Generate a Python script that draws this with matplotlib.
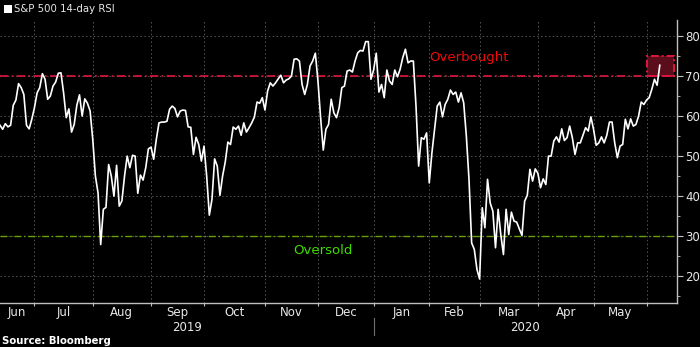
import numpy as np
import pandas as pd
import matplotlib
matplotlib.use("Agg")
import matplotlib.pyplot as plt
from matplotlib.patches import Rectangle
from matplotlib.ticker import MultipleLocator
from matplotlib.transforms import blended_transform_factory

_BG = "#000000"
_GRID = "#555555"
_SPINE = "#c0c0c0"
_TEXT = "#e8e8e8"
_OB_LINE = "#e0163c"
_OB_TEXT = "#f00a0a"
_OS_LINE = "#6aa000"
_OS_TEXT = "#3fdc00"

# S&P 500 14-day RSI, daily closes from 2019-06-12
RSI = [
    57.7, 56.7, 58.1, 57.3, 57.7, 62.7, 64.0, 68.1, 67.1, 65.4, 57.7, 56.8, 59.2,
    62.1, 65.8, 67.1, 70.6, 69.2, 64.2, 65.0, 67.5, 68.5, 70.7, 70.8, 65.8, 59.6,
    61.8, 56.0, 57.9, 62.7, 65.3, 60.0, 64.3, 63.2, 61.3, 54.2, 45.0, 40.8, 27.9,
    36.7, 37.2, 47.9, 45.0, 40.0, 47.7, 37.5, 38.8, 45.0, 50.0, 47.1, 50.2, 50.0,
    40.7,
    45.25, 44.0, 47.1, 51.8, 52.25, 49.2, 54.2, 58.3, 58.5, 58.5, 58.7, 61.7, 62.5,
    61.9, 59.8, 61.25, 61.5, 61.4, 57.3, 57.2, 50.4, 54.7, 52.9, 48.75, 52.5, 45.0,
    35.25, 39.2, 49.3, 47.5, 40.2, 45.0, 48.5, 53.5, 52.9, 57.25, 56.7, 57.5, 55.2,
    58.3, 56.0, 57.1, 58.3, 59.75, 63.5, 63.2, 64.6, 61.5, 66.25, 68.3, 67.5,
    68.3, 69.3, 70.2, 68.3, 69.0, 69.3, 70.0, 74.2, 74.3, 73.75, 67.9, 65.4, 67.9,
    72.5, 73.75, 75.7, 68.75, 59.6, 51.5, 56.7, 57.9, 64.2, 60.8, 59.6, 62.1, 67.1,
    67.5, 71.25, 71.5, 71.0, 73.75, 75.8, 76.4, 76.25, 78.6, 78.6, 69.2, 71.5, 75.7,
    66.0, 67.9, 64.6, 71.5, 68.75, 67.9, 71.5, 69.8, 71.7, 74.6, 76.7, 73.3,
    73.75, 73.75, 62.5, 47.5, 54.6, 54.2, 55.8, 43.3, 50.8, 56.7, 62.5, 63.5, 59.8,
    62.9, 64.2, 66.5, 65.4, 66.0, 63.5, 65.8, 63.3, 55.0, 44.2, 28.3, 26.7, 21.7,
    19.3, 37.1, 32.1, 44.2, 38.3, 36.25, 27.1, 36.7, 30.4, 25.4, 36.7, 30.4, 36.0,
    33.75, 33.5, 31.8, 30.2, 38.75, 40.2, 46.7, 43.75, 46.8, 45.7, 42.1, 44.3,
    42.9, 50.0, 50.0, 53.75, 54.8, 53.5, 56.8, 53.9, 54.6, 57.5, 54.6, 50.4, 53.3,
    53.3, 55.2, 57.1, 56.25, 59.8, 56.7, 52.7, 53.3, 54.8, 53.3, 55.2, 58.5, 58.5,
    53.3, 49.6, 52.5, 52.9, 59.2, 56.8, 59.3, 57.5, 57.9, 60.0, 63.5, 62.9, 64.0,
    64.6, 66.7, 69.2, 67.7, 72.7,
]
HOLIDAYS = [
    "2019-07-04", "2019-09-02", "2019-11-28", "2019-12-25", "2020-01-01",
    "2020-01-20", "2020-02-17", "2020-04-10", "2020-05-25",
]
OVERBOUGHT = 70
OVERSOLD = 30

dates = pd.bdate_range("2019-06-12", periods=len(RSI), freq="C", holidays=HOLIDAYS)
xs = np.arange(len(RSI))
x_max = len(RSI) + 5.5

# trading-day index where each new month starts
month_starts = [i for i in range(1, len(dates)) if dates[i].month != dates[i - 1].month]
edges = [0] + month_starts
month_mids = [(a + b) / 2 for a, b in zip(edges[:-1], edges[1:])]
month_names = [dates[i].strftime("%b") for i in edges[:-1]]
year_start = next(i for i in month_starts if dates[i].month == 1)

fig = plt.figure(figsize=(7, 3.47), dpi=100, facecolor=_BG)
ax = fig.add_axes([0, 1 - 303 / 347, 677 / 700, 283 / 347], facecolor=_BG)

ax.plot(xs, RSI, color="white", linewidth=1.2, zorder=4)
ax.axhline(OVERBOUGHT, color=_OB_LINE, linestyle=(0, (5, 2, 1, 2)), linewidth=1.2, zorder=3)
ax.axhline(OVERSOLD, color=_OS_LINE, linestyle=(0, (5, 2, 1, 2)), linewidth=1.0, zorder=3)

# highlight the latest push above overbought
box_x0 = month_starts[-1]
ax.add_patch(Rectangle((box_x0, OVERBOUGHT), x_max - 1.2 - box_x0, 5,
                       facecolor="#5c0d1c", edgecolor=_OB_LINE,
                       linestyle=(0, (4, 1.5, 1, 1.5)), linewidth=1.4, zorder=2))

ax.text(177, 74.6, "Overbought", color=_OB_TEXT, fontsize=9.5,
        ha="center", va="center", zorder=5)
ax.text(122, 26.5, "Oversold", color=_OS_TEXT, fontsize=9.5,
        ha="center", va="center", zorder=5)

ax.set_xlim(0, x_max)
ax.set_ylim(13.3, 84)

ax.set_xticks(month_starts)
ax.set_xticklabels([])
ax.tick_params(axis="x", length=2.5, color=_SPINE, direction="out")
ax.grid(True, axis="x", color=_GRID, linestyle=(0, (1.5, 2.5)), linewidth=0.7)

ax.yaxis.tick_right()
ax.yaxis.set_major_locator(MultipleLocator(10))
ax.yaxis.set_minor_locator(MultipleLocator(5))
ax.set_yticks(range(20, 81, 10))
ax.tick_params(axis="y", which="major", length=4, pad=2, color=_SPINE,
               labelcolor=_TEXT, labelsize=8.5)
ax.tick_params(axis="y", which="minor", length=2.5, color=_SPINE)
ax.grid(True, axis="y", which="major", color=_GRID, linestyle=(0, (1.5, 2.5)), linewidth=0.7)

for side in ("left", "top"):
    ax.spines[side].set_visible(False)
for side in ("right", "bottom"):
    ax.spines[side].set_color(_SPINE)
    ax.spines[side].set_linewidth(1.0)

trans = blended_transform_factory(ax.transData, ax.transAxes)
for mid, name in zip(month_mids, month_names):
    ax.text(mid, -0.032, name, transform=trans, color=_TEXT, fontsize=8.5,
            ha="center", va="center", clip_on=False)
ax.text(year_start / 2, -0.085, "2019", transform=trans, color=_TEXT,
        fontsize=8.5, ha="center", va="center", clip_on=False)
ax.text((year_start + x_max) / 2, -0.085, "2020", transform=trans, color=_TEXT,
        fontsize=8.5, ha="center", va="center", clip_on=False)
ax.plot([year_start, year_start], [-0.053, -0.113], transform=trans,
        color="#707070", linewidth=0.8, clip_on=False)

# legend swatch + series name
fig.add_artist(Rectangle((4 / 700, 1 - 12.5 / 347), 7.5 / 700, 7.5 / 347,
                         transform=fig.transFigure, facecolor="white",
                         edgecolor="none"))
fig.text(14 / 700, 1 - 9 / 347, "S&P 500 14-day RSI", color=_TEXT, fontsize=7.3,
         ha="left", va="center")
fig.text(2 / 700, 1 - 341 / 347, "Source: Bloomberg", color="white", fontsize=7.3,
         fontweight="bold", ha="left", va="center")

fig.savefig("out.png", dpi=100, facecolor=_BG)
